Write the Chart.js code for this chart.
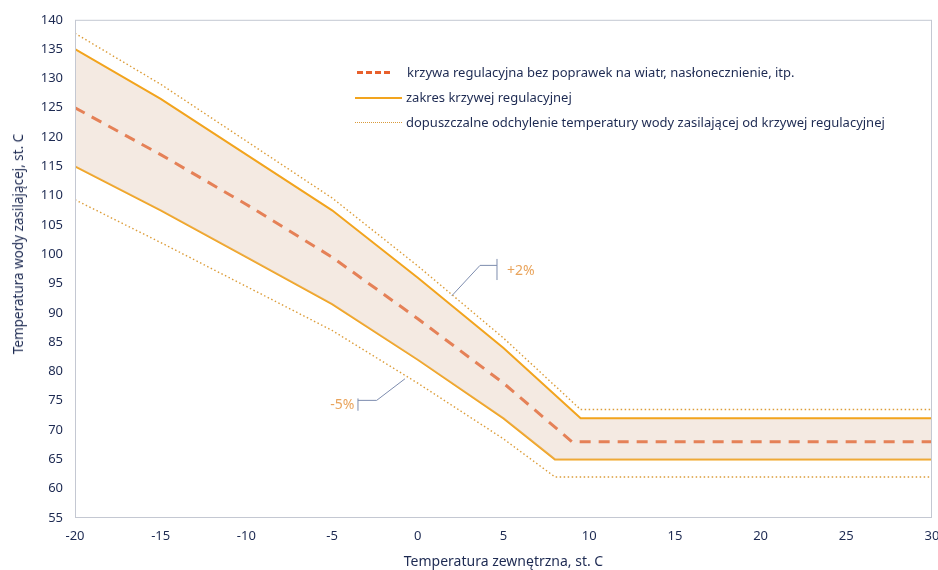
<!DOCTYPE html>
<html lang="pl">
<head>
<meta charset="utf-8">
<title>Krzywa regulacyjna</title>
<script src="https://cdn.jsdelivr.net/npm/chart.js@4.4.1/dist/chart.umd.min.js"></script>
<style>
  html, body { margin: 0; padding: 0; background: #ffffff; }
  #wrap { position: relative; width: 938px; height: 570px; font-family: "Noto Sans", sans-serif; color: #1d2a52; }
  #legend { position: absolute; left: 355px; top: 60px; font-size: 13px; line-height: 25px; }
  #legend .row { display: flex; align-items: center; white-space: nowrap; }
  #legend .smp { display: inline-block; width: 47px; margin-right: 4px; height: 0; }
  #ytitle { position: absolute; left: 18px; top: 244px; transform: translate(-50%, -50%) rotate(-90deg);
            font-size: 13.5px; white-space: nowrap; }
</style>
</head>
<body>
<div id="wrap">
  <canvas id="wykres" width="938" height="570"></canvas>
  <div id="ytitle">Temperatura wody zasilającej, st. C</div>
  <div id="legend">
    <div class="row"><span class="smp" style="border-top:3px dashed #e8602c;width:33px;margin-right:17px;margin-left:2px"></span>krzywa regulacyjna bez poprawek na wiatr, nasłonecznienie, itp.</div>
    <div class="row"><span class="smp" style="border-top:2px solid #f2a41e"></span>zakres krzywej regulacyjnej</div>
    <div class="row"><span class="smp" style="border-top:1.5px dotted #d99a3a"></span>dopuszczalne odchylenie temperatury wody zasilającej od krzywej regulacyjnej</div>
  </div>
</div>
<script>
// Dane (temperatura zewnętrzna -> temperatura wody zasilającej)
const xUpperDot = [-20, -15, -10, -5, 0, 5, 9.5, 30];
const yUpperDot = [137.7, 129, 119.3, 109.6, 98, 85.7, 73.5, 73.5];

const xUpper = [-20, -15, -10, -5, 0, 5, 9.5, 30];
const yUpper = [135, 126.5, 117, 107.5, 96, 84, 72, 72];

const xCurve = [-20, -15, -10, -5, 0, 5, 9, 30];
const yCurve = [125, 117, 108.5, 99.5, 89, 78, 68, 68];

const xLower = [-20, -15, -10, -5, 0, 5, 8, 30];
const yLower = [115, 107.5, 99.5, 91.5, 82, 72, 65, 65];

const xLowerDot = [-20, -15, -10, -5, 0, 5, 8, 30];
const yLowerDot = [109.3, 102, 94.5, 87, 78, 68.5, 62, 62];

const xTicks = [-20, -15, -10, -5, 0, 5, 10, 15, 20, 25, 30];
const yTicks = [55, 60, 65, 70, 75, 80, 85, 90, 95, 100, 105, 110, 115, 120, 125, 130, 135, 140];

function pts(xs, ys) {
    return xs.map((x, i) => ({ x: x, y: ys[i] }));
}

const fontTick = { family: 'Noto Sans', size: 13 };

// ramka obszaru wykresu i opisy +2% / -5%
const ramka = {
    id: 'ramka',
    afterDraw(chart) {
        const ctx = chart.ctx;
        const a = chart.chartArea;
        const sx = chart.scales.x, sy = chart.scales.y;
        const X = v => sx.getPixelForValue(v), Y = v => sy.getPixelForValue(v);
        ctx.save();
        ctx.strokeStyle = '#c4c8d2';
        ctx.lineWidth = 1;
        ctx.strokeRect(a.left + 0.5, a.top + 0.5, a.right - a.left - 1, a.bottom - a.top - 1);

        ctx.strokeStyle = '#7d8cae';
        ctx.lineWidth = 1;
        // +2%
        ctx.beginPath();
        ctx.moveTo(X(4.62), Y(99.2)); ctx.lineTo(X(4.62), Y(95.6));
        ctx.moveTo(X(4.62), Y(98.1)); ctx.lineTo(X(3.63), Y(98.1)); ctx.lineTo(X(1.98), Y(92.9));
        // -5%
        ctx.moveTo(X(-3.49), Y(75.4)); ctx.lineTo(X(-3.49), Y(73.3));
        ctx.moveTo(X(-3.49), Y(75.07)); ctx.lineTo(X(-2.4), Y(75.07)); ctx.lineTo(X(-0.75), Y(78.75));
        ctx.stroke();

        ctx.fillStyle = '#e9a45c';
        ctx.font = '14px "Noto Sans"';
        ctx.textBaseline = 'middle';
        ctx.textAlign = 'left';
        ctx.fillText('+2%', X(5.2), Y(97.2));
        ctx.textAlign = 'right';
        ctx.fillText('-5%', X(-3.7), Y(74.3));
        ctx.restore();
    }
};

new Chart(document.getElementById('wykres'), {
    type: 'line',
    data: {
        datasets: [{
            label: 'dopuszczalne odchylenie (+2%)',
            data: pts(xUpperDot, yUpperDot),
            borderColor: '#dc9c38',
            borderWidth: 1.4,
            borderDash: [1.5, 2.5],
            pointRadius: 0,
            fill: false
        }, {
            label: 'zakres krzywej regulacyjnej (góra)',
            data: pts(xUpper, yUpper),
            borderColor: '#f2a41e',
            borderWidth: 2,
            pointRadius: 0,
            backgroundColor: 'rgba(222, 192, 170, 0.34)',
            fill: 3
        }, {
            label: 'krzywa regulacyjna',
            data: pts(xCurve, yCurve),
            borderColor: '#e8602c',
            borderWidth: 3,
            borderDash: [11, 8],
            pointRadius: 0,
            fill: false
        }, {
            label: 'zakres krzywej regulacyjnej (dół)',
            data: pts(xLower, yLower),
            borderColor: '#f2a41e',
            borderWidth: 2,
            pointRadius: 0,
            fill: false
        }, {
            label: 'dopuszczalne odchylenie (-5%)',
            data: pts(xLowerDot, yLowerDot),
            borderColor: '#dc9c38',
            borderWidth: 1.4,
            borderDash: [1.5, 2.5],
            pointRadius: 0,
            fill: false
        }]
    },
    options: {
        responsive: false,
        animation: false,
        layout: { padding: { left: 0, right: 6, top: 19, bottom: 0 } },
        plugins: {
            legend: { display: false },
            tooltip: { enabled: false }
        },
        scales: {
            x: {
                type: 'linear',
                min: -20,
                max: 30,
                afterBuildTicks: s => { s.ticks = xTicks.map(v => ({ value: v })); },
                afterFit: s => { s.height = 52; s.paddingRight = 0; s.paddingLeft = 0; },
                grid: { display: false, drawTicks: false },
                border: { display: false },
                ticks: { color: '#1d2a52', font: fontTick, padding: 10 },
                title: {
                    display: true,
                    text: 'Temperatura zewnętrzna, st. C',
                    color: '#1d2a52',
                    font: { family: 'Noto Sans', size: 14 },
                    padding: { top: 4, bottom: 0 }
                }
            },
            y: {
                min: 55,
                max: 140,
                afterBuildTicks: s => { s.ticks = yTicks.map(v => ({ value: v })); },
                afterFit: s => { s.width = 75; },
                grid: { display: false, drawTicks: false },
                border: { display: false },
                ticks: { color: '#1d2a52', font: fontTick, padding: 12 }
            }
        }
    },
    plugins: [ramka]
});
</script>
</body>
</html>
